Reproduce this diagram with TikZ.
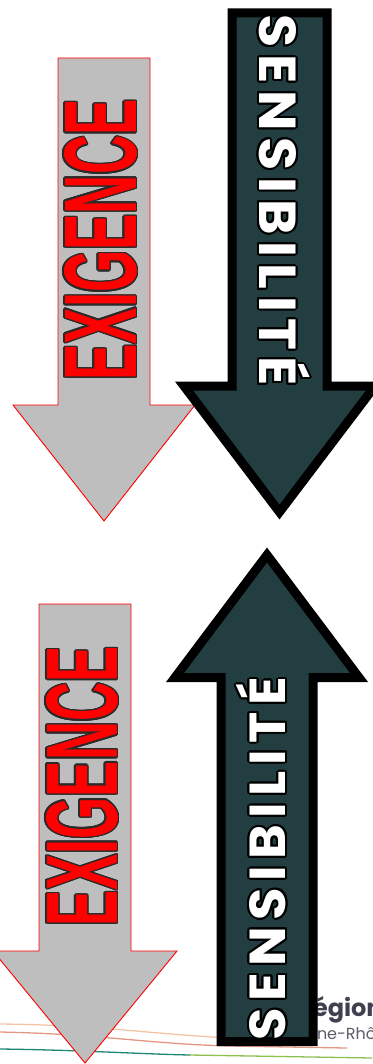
\documentclass[tikz,border=0pt]{standalone}
\usepackage{fontspec}
\setmainfont{Liberation Sans}
\newfontfamily\sensfont{Poppins}
\newfontfamily\logofont{Poppins}
\definecolor{arrowgray}{HTML}{BEBEBE}
\definecolor{darkteal}{HTML}{233E41}
\definecolor{exoutline}{HTML}{2A2A2A}
\definecolor{peach}{HTML}{F2C4A6}
\definecolor{salmon}{HTML}{E49684}
\definecolor{tealline}{HTML}{1E8676}
\definecolor{greenline}{HTML}{8CC152}
\definecolor{logodark}{HTML}{3F4150}
\definecolor{logolight}{HTML}{5A5C66}
\newsavebox\outbox
\newsavebox\fillbox
\newcommand\outlined[4]{%
  \sbox\outbox{\color{#2}#4}%
  \sbox\fillbox{\color{#3}#4}%
  \leavevmode
  \foreach \ang in {0,22.5,...,337.5}{%
     \pgfmathsetmacro\odx{#1*cos(\ang)}%
     \pgfmathsetmacro\ody{#1*sin(\ang)}%
     \rlap{\kern\odx pt\raisebox{\ody pt}{\usebox\outbox}}}%
  \usebox\fillbox}
\newcommand\ls{\kern0.12em}
\newcommand\senstext{\sensfont\bfseries S\ls E\ls N\ls S\ls I\ls B\ls I\ls L\ls I\ls T\ls\smash{É}}
\begin{document}
\begin{tikzpicture}[x=1pt,y=-1pt,
  txt/.style={inner sep=0pt,outer sep=0pt},
  grayarrow/.style={fill=arrowgray,draw=red,line width=0.9pt,line join=miter},
  darkarrow/.style={fill=darkteal,draw=black,line width=9pt,line join=miter,miter limit=10},
  logoline/.style={line width=1.3pt,line cap=round}]
\useasboundingbox (0,0) rectangle (372,1064);
% decorative logo lines
\draw[logoline,peach] (0,1024) .. controls (100,1025) and (150,1034) .. (230,1038);
\draw[logoline,salmon] (0,1032) .. controls (100,1034) and (150,1044) .. (230,1046) -- (347,1048);
\draw[logoline,tealline] (0,1049) .. controls (80,1050) and (140,1054) .. (190,1055);
\draw[logoline,greenline] (190,1055) -- (372,1058);
% logo text
\node[txt,anchor=base west,font=\logofont\bfseries\fontsize{24}{24}\selectfont,text=logodark] (region) at (313,1016) {égion};
\node[txt,anchor=base west,font=\logofont\fontsize{16}{16}\selectfont,text=logolight] (aura) at (317,1039) {ne-Rhô};
% arrows
\draw[grayarrow] (58,58) -- (150,58) -- (150,405) -- (195,405) -- (104,521) -- (13,405) -- (58,405) -- cycle;
\draw[darkarrow] (232,13) -- (327,13) -- (327,386) -- (375,386) -- (279.5,512) -- (184,386) -- (232,386) -- cycle;
\draw[grayarrow] (39,604) -- (131,604) -- (131,951) -- (177,951) -- (85,1063) -- (-7,951) -- (39,951) -- cycle;
\draw[darkarrow] (221,1041.5) -- (313,1041.5) -- (313,677.5) -- (359,677.5) -- (267,555) -- (175,677.5) -- (221,677.5) -- cycle;
% texts
\node[txt] (exigenceA) at (100.5,240) {\outlined{1.4}{exoutline}{red}{\rotatebox{90}{\resizebox{281pt}{72pt}{\bfseries EXIGENCE}}}};
\node[txt] (exigenceB) at (82,786.5) {\outlined{1.4}{exoutline}{red}{\rotatebox{90}{\resizebox{280pt}{71pt}{\bfseries EXIGENCE}}}};
\node[txt] (sensA) at (277.5,200.5) {\outlined{2}{black}{white}{\rotatebox{-90}{\resizebox{371pt}{37pt}{\senstext}}}};
\node[txt] (sensB) at (268,858.5) {\outlined{2}{black}{white}{\rotatebox{90}{\resizebox{363pt}{36pt}{\senstext}}}};
\end{tikzpicture}
\end{document}
